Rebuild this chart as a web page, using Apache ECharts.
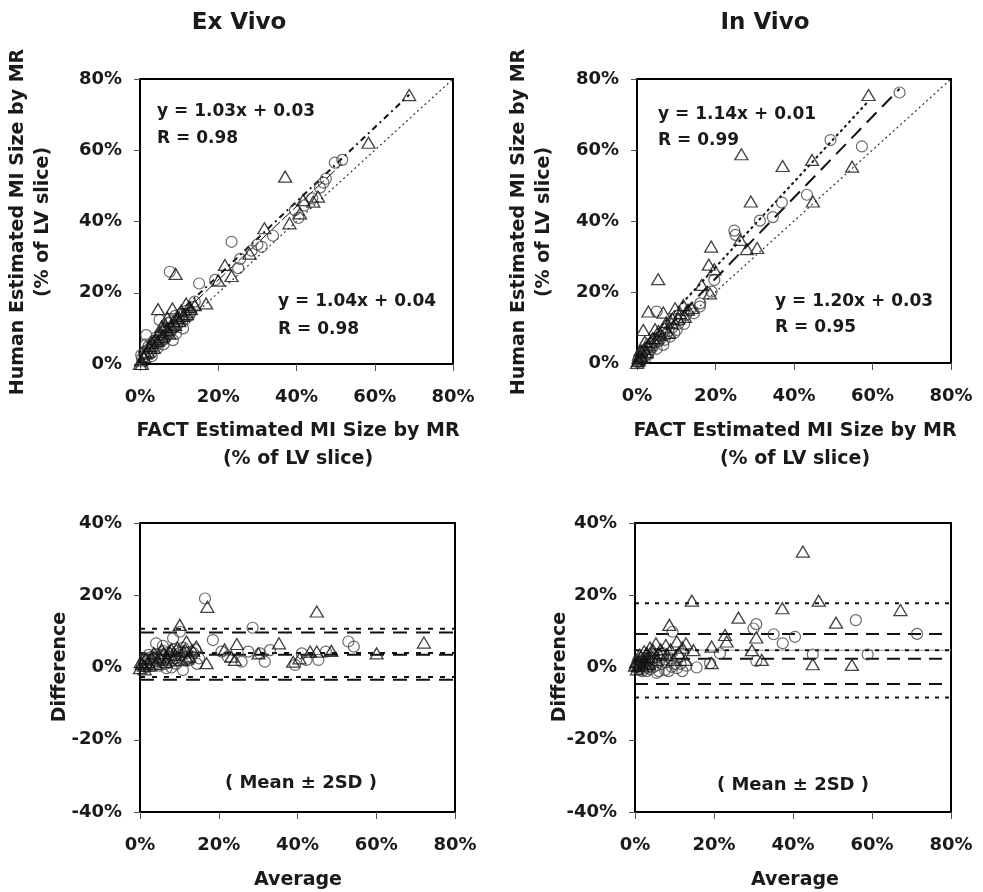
<!DOCTYPE html>
<html>
<head>
<meta charset="utf-8">
<script src="https://cdn.jsdelivr.net/npm/echarts@6/dist/echarts.min.js"></script>
<style>html,body{margin:0;padding:0;background:#fff}#c{width:983px;height:892px}</style>
</head>
<body>
<div id="c"></div>
<script>
// ---------- DATA (values in %) ----------
// Ex vivo scatter: [FACT, Human]
const exCircles = [[0.5,1.5],[0.3,2.5],[1.0,3.0],[1.6,8.1],[2.0,4.0],[2.5,3.5],[3.0,5.5],[3.3,4.9],[3.5,6.5],[4.0,5.0],[4.2,7.5],[4.8,6.0],[5.0,12.4],[5.2,8.0],[5.5,6.5],[6.0,9.0],[6.3,7.0],[6.7,7.7],[7.0,10.0],[7.2,11.5],[7.6,25.9],[7.8,9.0],[8.0,12.0],[8.4,6.7],[8.8,10.5],[9.0,13.5],[9.5,11.0],[10.0,12.5],[10.5,14.0],[11.0,10.0],[11.5,12.5],[12.0,15.0],[13.0,14.5],[14.0,17.5],[15.1,22.6],[19.2,23.6],[23.4,34.3],[25.1,26.9],[25.6,29.5],[28.5,31.8],[31.1,32.9],[30.0,33.5],[34.0,36.0],[39.6,43.2],[40.5,41.0],[42.0,44.5],[44.0,46.5],[46.0,49.5],[46.9,50.9],[47.5,52.0],[49.8,56.5],[51.7,57.3],
  [1.2,2.0],[2.2,5.0],[2.8,3.0],[3.8,6.0],[4.5,4.5],[5.8,7.5],[6.5,9.5],[7.4,8.5],[8.2,9.8],[9.2,8.5],[9.8,11.8],[10.8,12.0],[11.2,13.8],[12.5,13.5],[13.5,16.0],[6.0,5.5],[3.0,2.2],[1.5,5.5]];
const exTriangles = [[0,0],[0.3,1.0],[1.0,2.0],[2.0,3.5],[3.0,6.0],[4.0,7.0],[4.6,15.4],[5.0,9.0],[6.0,8.0],[6.5,11.0],[7.0,13.0],[8.0,10.5],[8.3,15.6],[9.1,25.3],[9.5,13.0],[10.5,15.0],[11.8,17.0],[12.5,16.0],[16.9,17.0],[20.0,23.4],[21.7,27.8],[23.4,24.7],[28.0,31.0],[31.8,38.1],[37.1,52.6],[38.2,39.5],[40.9,42.3],[41.7,46.0],[44.3,45.6],[45.5,47.0],[58.4,62.1],[68.8,75.5],
  [1.5,3.0],[2.5,5.0],[3.5,4.5],[4.5,6.5],[5.5,7.5],[6.8,9.5],[7.5,8.5],[8.5,12.0],[9.0,11.0],[10.0,12.0],[11.0,13.5],[12.0,14.0],[13.0,15.5],[14.0,16.5],[5.5,10.5],[0.5,0.0]];
// In vivo scatter
const inCircles = [[0.2,0.5],[0.5,1.5],[1.0,2.5],[1.0,1.0],[1.5,3.0],[2.0,2.0],[2.5,4.0],[3.0,3.0],[3.3,5.5],[4.0,4.5],[5.0,14.5],[5.4,6.0],[6.0,7.5],[6.7,5.1],[7.5,8.0],[8.4,7.4],[9.0,10.0],[10.1,9.3],[11.0,12.1],[12.0,11.0],[13.5,14.9],[16.0,15.9],[16.1,16.8],[19.0,20.1],[19.7,23.4],[24.8,37.3],[25.1,36.1],[31.3,40.1],[34.6,41.1],[36.9,45.2],[43.3,47.4],[49.3,62.8],[57.3,61.0],[66.9,76.2],
  [0.3,0.2],[0.8,0.5],[1.3,1.8],[1.8,3.5],[2.2,1.5],[2.8,2.5],[3.5,3.8],[4.5,5.5],[5.0,4.0],[5.8,6.5],[6.5,8.5],[7.0,6.5],[8.0,9.0],[9.5,8.5],[10.5,11.0],[12.5,13.5],[14.5,14.0]];
const inTriangles = [[0,0],[0.5,1.0],[1.0,3.5],[1.6,9.3],[2.0,6.0],[2.9,14.5],[3.0,5.0],[4.0,7.0],[4.6,9.5],[5.4,23.6],[6.0,8.0],[6.7,14.2],[8.8,11.2],[9.7,15.4],[10.5,12.5],[11.8,16.3],[12.2,13.0],[16.5,22.0],[18.3,27.7],[18.6,19.6],[18.9,32.8],[19.7,26.4],[26.3,34.7],[26.6,58.8],[28.0,32.1],[29.0,45.5],[30.6,32.4],[37.1,55.5],[44.6,57.2],[44.8,45.5],[54.8,55.3],[59.0,75.5],
  [0.3,0.5],[0.8,2.0],[1.2,1.5],[1.8,4.0],[2.5,3.0],[3.5,6.0],[5.0,7.0],[5.5,9.0],[7.0,10.0],[7.5,11.5],[8.0,8.5],[9.0,12.5],[11.0,14.0],[13.0,15.0],[14.0,15.5]];
// Regression fits: [slope, intercept(%), xEnd(%)]
const exCircleFit = [1.03, 3, 51.7];
const exTriangleFit = [1.04, 4, 68.8];
const inCircleFit = [1.14, 1, 66.9];
const inTriangleFit = [1.20, 3, 59.0];
// Bland-Altman: [average, difference]
const exDiffCircles = [[0.5,0.5],[1.0,1.5],[1.5,0.0],[2.0,2.0],[2.5,1.0],[3.0,3.0],[3.5,1.5],[4.1,6.7],[4.5,2.5],[5.0,0.5],[5.5,3.5],[6.0,2.0],[6.7,-0.2],[7.0,4.0],[7.5,1.5],[8.0,3.0],[8.4,8.1],[9.0,2.5],[9.5,4.5],[10.1,9.9],[10.5,3.5],[10.9,-0.7],[11.5,2.0],[12.0,4.0],[13.0,3.0],[14.0,5.0],[15.0,2.5],[16.5,19.1],[18.5,7.6],[20.7,4.4],[22.3,3.0],[25.8,1.6],[27.5,4.4],[28.6,11.0],[30.5,3.9],[31.7,1.6],[33.0,4.8],[39.4,0.7],[41.1,3.9],[42.3,2.1],[45.3,2.1],[47.2,4.4],[52.9,7.2],[54.3,5.8],
  [1.2,2.5],[2.2,3.5],[3.2,0.5],[4.0,3.5],[5.2,2.0],[6.2,4.5],[6.5,1.0],[7.2,3.0],[8.5,5.0],[9.2,1.0],[10.0,4.0],[11.0,5.5],[12.5,2.0],[13.5,4.0],[14.5,1.0],[8.0,0.0],[5.8,6.0]];
const exDiffTriangles = [[0,-0.2],[0.5,1.0],[1.0,0.5],[2.0,1.5],[3.0,2.5],[4.0,1.0],[5.0,3.0],[6.0,4.0],[7.0,2.5],[8.0,5.0],[9.0,3.5],[10.1,11.8],[11.0,4.5],[11.8,7.2],[12.5,3.0],[14.3,5.8],[16.9,1.2],[17.1,16.8],[21.5,5.0],[23.2,3.0],[24.1,2.1],[24.6,6.5],[30.1,3.9],[35.3,6.7],[38.9,1.6],[40.5,2.5],[43.2,4.4],[44.9,4.4],[44.9,15.5],[48.6,4.6],[60.1,3.9],[72.1,6.9],
  [1.5,2.5],[2.5,0.5],[3.5,4.0],[4.5,2.0],[5.5,5.0],[6.5,1.5],[7.5,4.5],[8.5,2.0],[9.5,5.5],[10.5,2.0],[11.5,5.0],[12.0,2.5],[13.5,4.5],[0.2,1.5],[1.2,-0.5]];
const inDiffCircles = [[0.2,0.0],[0.5,1.0],[1.0,-0.5],[1.5,1.5],[2.0,0.5],[2.5,2.5],[3.0,-1.0],[3.5,1.0],[4.0,3.0],[4.5,0.0],[5.0,2.0],[5.5,-1.5],[6.3,2.1],[7.2,3.9],[7.6,-0.7],[8.0,1.5],[9.3,0.2],[9.5,9.9],[10.6,-0.2],[11.5,1.0],[13.0,0.5],[15.6,0.0],[19.0,1.2],[21.5,3.9],[30.0,10.8],[30.7,12.0],[30.7,1.8],[35.1,9.2],[37.4,6.7],[40.5,8.5],[45.0,3.6],[55.9,13.1],[58.9,3.6],[71.4,9.3],
  [0.8,2.0],[1.2,0.5],[1.8,-1.0],[2.2,2.0],[2.8,1.0],[3.3,2.5],[3.8,-0.5],[4.3,1.5],[5.3,0.5],[6.0,-1.0],[6.8,1.0],[7.0,3.0],[8.5,-1.0],[9.0,2.5],[10.0,1.0],[12.0,-1.0],[11.0,3.0]];
const inDiffTriangles = [[0,0.5],[0.5,-0.5],[1.0,1.5],[1.5,3.0],[2.0,0.0],[2.5,2.0],[3.0,4.0],[3.5,1.0],[4.6,4.8],[5.3,6.7],[5.5,2.0],[7.8,6.2],[8.7,11.8],[9.7,2.1],[10.6,7.2],[12.7,2.1],[12.9,6.7],[14.4,18.5],[14.8,4.8],[19.4,5.8],[19.4,1.2],[22.8,9.0],[23.2,7.2],[26.2,13.8],[29.6,4.8],[30.7,8.3],[32.1,2.1],[37.3,16.4],[42.5,32.1],[45.0,0.9],[46.5,18.5],[50.9,12.4],[54.9,0.7],[67.2,15.9],
  [0.3,1.5],[0.8,0.5],[1.2,3.5],[1.8,1.0],[2.3,4.5],[2.8,0.5],[3.3,2.5],[3.8,5.5],[4.2,3.0],[6.0,4.0],[6.5,5.0],[8.0,3.5],[9.0,5.0],[11.0,4.0],[12.0,5.5]];
// Mean and mean +/- 2SD lines [upper, mean, lower]
const exLimitsA = [10.7, 4.0, -2.6];
const exLimitsB = [9.7, 3.5, -3.4];
const inLimitsA = [17.8, 4.8, -8.3];
const inLimitsB = [9.3, 2.4, -4.6];
const inGrayLine = 4.8;

// ---------- CHART ----------
const FONT = 'DejaVu Sans';
const TXT = '#1a1a1a';
const grids = [
  {left:140, top:79, width:313, height:285},
  {left:637, top:79, width:314, height:284},
  {left:140, top:523, width:315, height:289},
  {left:635, top:523, width:316, height:289}
];
function xAx(i){
  return {gridIndex:i, type:'value', min:0, max:80, interval:20,
    axisLine:{show:true, onZero:false, lineStyle:{color:'#000', width:2}},
    axisTick:{show:true, inside:false, length:7, lineStyle:{color:'#555', width:1}},
    axisLabel:{margin:24, color:TXT, fontFamily:FONT, fontWeight:'bold', fontSize:18, formatter:'{value}%'},
    splitLine:{show:false}};
}
function yAx(i, min, max){
  return {gridIndex:i, type:'value', min:min, max:max, interval:20,
    axisLine:{show:true, onZero:false, lineStyle:{color:'#000', width:2}},
    axisTick:{show:true, inside:false, length:6, lineStyle:{color:'#555', width:1}},
    axisLabel:{margin:18, color:TXT, fontFamily:FONT, fontWeight:'bold', fontSize:18, formatter:'{value}%'},
    splitLine:{show:false}};
}
function circ(i, data){
  return {type:'scatter', xAxisIndex:i, yAxisIndex:i, data:data, symbol:'circle', symbolSize:11,
    itemStyle:{color:'rgba(255,255,255,0)', borderColor:'#444', borderWidth:1.2}, z:3};
}
function tri(i, data){
  return {type:'scatter', xAxisIndex:i, yAxisIndex:i, data:data, symbol:'triangle', symbolSize:[13,11],
    itemStyle:{color:'rgba(255,255,255,0)', borderColor:'#111', borderWidth:1.3}, z:4};
}
function seg(i, pts, type, width, color){
  return {type:'line', xAxisIndex:i, yAxisIndex:i, data:pts, symbol:'none', silent:true,
    lineStyle:{color:color||'#111', width:width, type:type}, z:2};
}
function fitLine(i, fit, type, width){
  return seg(i, [[0, fit[1]], [fit[2], fit[0]*fit[2] + fit[1]]], type, width);
}
function hlines(i, vals, type, width, color){
  return vals.map(v => seg(i, [[0, v], [80, v]], type, width, color));
}
function txt(x, y, text, size, rot, align){
  return {type:'text', x:x, y:y, rotation:rot||0, z:10,
    style:{text:text, fontFamily:FONT, fontWeight:'bold', fontSize:size, fill:TXT,
      align:align||'center', verticalAlign:'middle'}};
}
const R90 = Math.PI/2;
const option = {
  animation:false,
  backgroundColor:'#fff',
  grid: grids.map(g => Object.assign({show:true, borderColor:'#000', borderWidth:2, backgroundColor:'rgba(0,0,0,0)'}, g)),
  xAxis:[xAx(0), xAx(1), xAx(2), xAx(3)],
  yAxis:[yAx(0,0,80), yAx(1,0,80), yAx(2,-40,40), yAx(3,-40,40)],
  series:[
    seg(0, [[0,0],[80,80]], [2,3], 1.2, '#333'),
    fitLine(0, exCircleFit, [12,3], 1),
    fitLine(0, exTriangleFit, [6,4,2,4], 2),
    circ(0, exCircles), tri(0, exTriangles),
    seg(1, [[0,0],[80,80]], [2,3], 1.2, '#333'),
    fitLine(1, inCircleFit, [14,8], 2),
    fitLine(1, inTriangleFit, [3,3], 2),
    circ(1, inCircles), tri(1, inTriangles),
    ...hlines(2, exLimitsA, [5,7], 2),
    ...hlines(2, exLimitsB, [14,9], 2),
    circ(2, exDiffCircles), tri(2, exDiffTriangles),
    seg(3, [[0,inGrayLine],[80,inGrayLine]], 'solid', 1, '#999'),
    ...hlines(3, inLimitsA, [4,6], 2),
    ...hlines(3, inLimitsB, [13,8], 2),
    circ(3, inDiffCircles), tri(3, inDiffTriangles)
  ],
  graphic:[
    txt(239, 23, 'Ex Vivo', 23),
    txt(765, 23, 'In Vivo', 23),
    txt(18, 222, 'Human Estimated MI Size by MR', 19, R90),
    txt(43, 222, '(% of LV slice)', 19, R90),
    txt(519, 222, 'Human Estimated MI Size by MR', 19, R90),
    txt(544, 222, '(% of LV slice)', 19, R90),
    txt(298, 431, 'FACT Estimated MI Size by MR', 19),
    txt(298, 459, '(% of LV slice)', 19),
    txt(795, 431, 'FACT Estimated MI Size by MR', 19),
    txt(795, 459, '(% of LV slice)', 19),
    txt(60, 667, 'Difference', 19, R90),
    txt(560, 667, 'Difference', 19, R90),
    txt(298, 880, 'Average', 19),
    txt(795, 880, 'Average', 19),
    txt(157, 112, 'y = 1.03x + 0.03', 17, 0, 'left'),
    txt(157, 139, 'R = 0.98', 17, 0, 'left'),
    txt(278, 302, 'y = 1.04x + 0.04', 17, 0, 'left'),
    txt(278, 330, 'R = 0.98', 17, 0, 'left'),
    txt(658, 115, 'y = 1.14x + 0.01', 17, 0, 'left'),
    txt(658, 141, 'R = 0.99', 17, 0, 'left'),
    txt(775, 302, 'y = 1.20x + 0.03', 17, 0, 'left'),
    txt(775, 328, 'R = 0.95', 17, 0, 'left'),
    txt(301, 783, '( Mean \u00b1 2SD )', 18),
    txt(793, 785, '( Mean \u00b1 2SD )', 18)
  ]
};
const chart = echarts.init(document.getElementById('c'), null, {renderer:'canvas'});
chart.setOption(option);
</script>
</body>
</html>
